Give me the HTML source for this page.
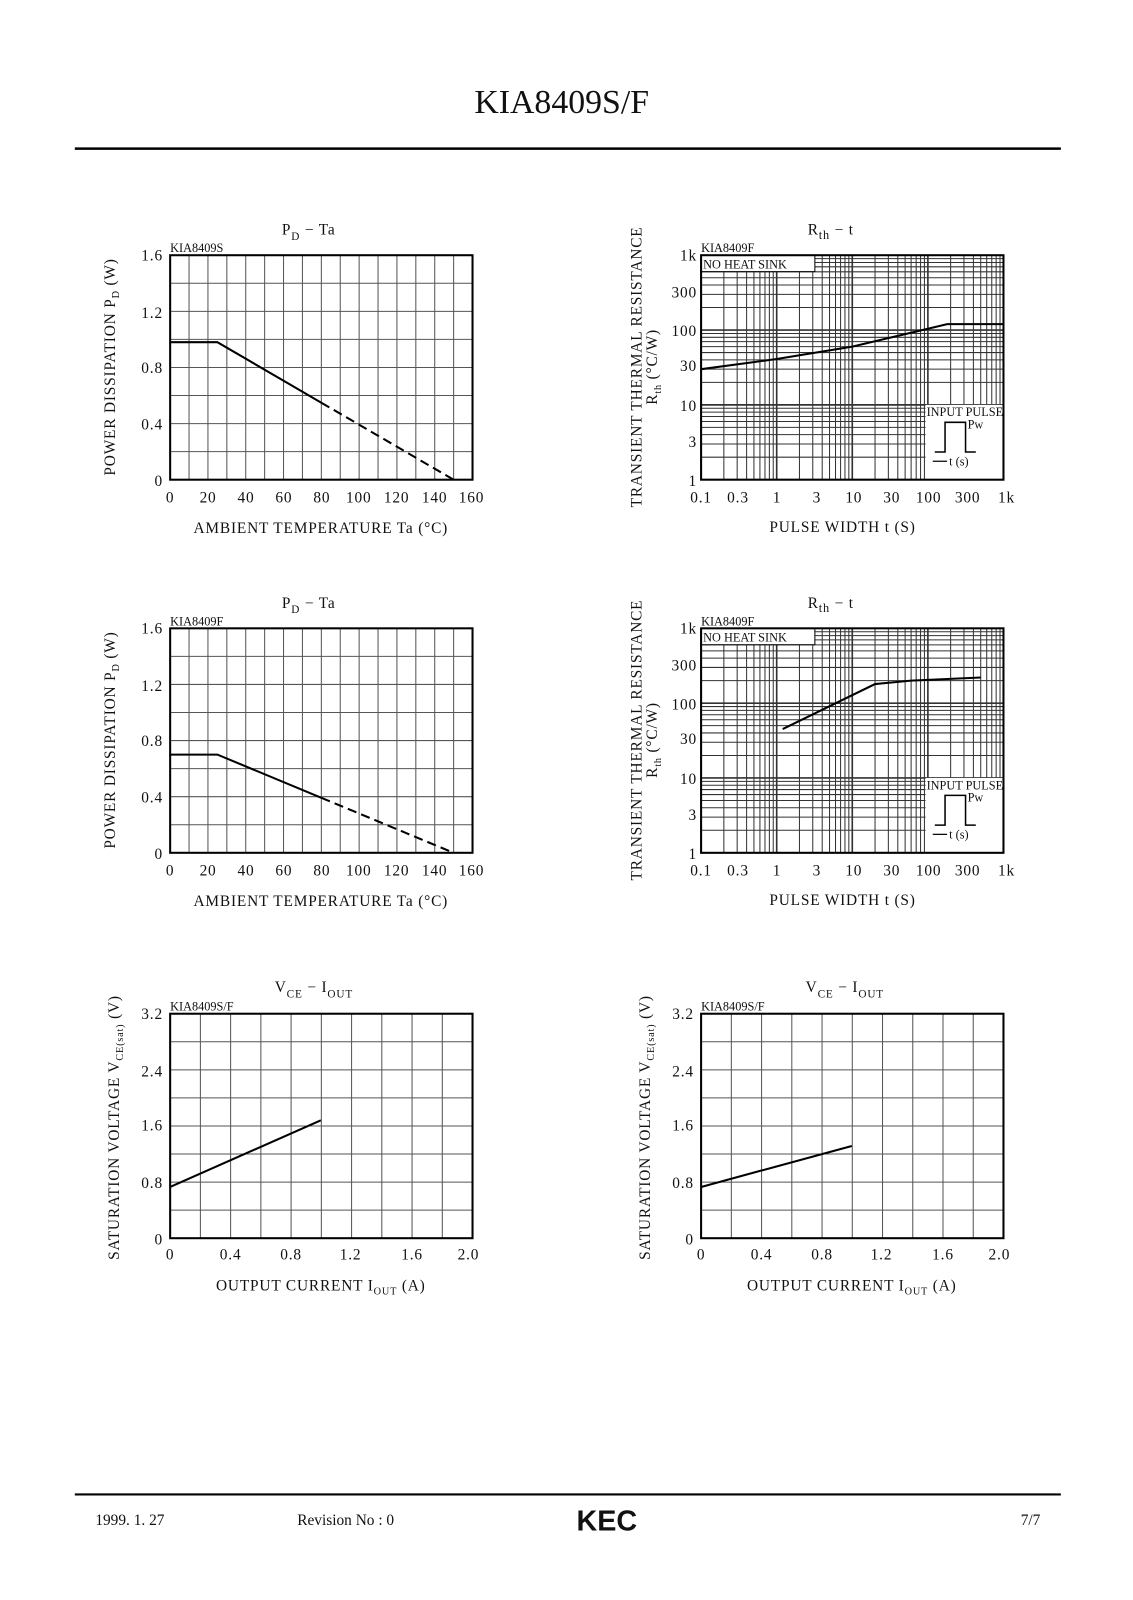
<!DOCTYPE html>
<html><head><meta charset="utf-8"><style>
body{margin:0;background:#fff}
svg{display:block}
text{font-family:"Liberation Serif",serif;fill:#111}
.t{font-size:15px;letter-spacing:0.8px}
.s{font-size:12px}
</style></head><body>
<svg width="1133" height="1600" xmlns="http://www.w3.org/2000/svg">
<g id="w" transform="scale(1.025)">
<text x="548" y="110" font-size="33" text-anchor="middle">KIA8409S/F</text>
<line x1="73" y1="145" x2="1035" y2="145" stroke="#000" stroke-width="2.5"/>
<line x1="73" y1="1458" x2="1035" y2="1458" stroke="#000" stroke-width="2"/>
<text x="93" y="1488" font-size="15">1999. 1. 27</text>
<text x="290" y="1488" font-size="15">Revision No : 0</text>
<text x="592" y="1493" font-size="28" font-weight="bold" text-anchor="middle" style="font-family:'Liberation Sans',sans-serif">KEC</text>
<text x="1015" y="1488" font-size="15" text-anchor="end">7/7</text>
<g id="g"></g>

<text x="275" y="229" class="t" font-size="18">P<tspan font-size="11" dy="5">D</tspan><tspan dy="-5">  −  Ta</tspan></text>
<text x="166" y="246" class="s">KIA8409S</text>
<g class="t" text-anchor="end"><text x="159" y="254">1.6</text><text x="159" y="310">1.2</text><text x="159" y="364">0.8</text><text x="159" y="419">0.4</text><text x="159" y="474">0</text></g>
<g class="t" text-anchor="middle"><text x="166" y="490">0</text><text x="203" y="490">20</text><text x="240" y="490">40</text><text x="277" y="490">60</text><text x="314" y="490">80</text><text x="350" y="490">100</text><text x="387" y="490">120</text><text x="424" y="490">140</text><text x="460" y="490">160</text></g>
<text x="313" y="520" class="t" text-anchor="middle">AMBIENT  TEMPERATURE  Ta  (°C)</text>
<text transform="translate(112,358) rotate(-90)" class="t" text-anchor="middle">POWER  DISSIPATION  P<tspan font-size="10" dy="4">D</tspan><tspan dy="-4">  (W)</tspan></text>

<text x="275" y="593" class="t" font-size="18">P<tspan font-size="11" dy="5">D</tspan><tspan dy="-5">  −  Ta</tspan></text>
<text x="166" y="610" class="s">KIA8409F</text>
<g class="t" text-anchor="end"><text x="159" y="618">1.6</text><text x="159" y="674">1.2</text><text x="159" y="728">0.8</text><text x="159" y="783">0.4</text><text x="159" y="838">0</text></g>
<g class="t" text-anchor="middle"><text x="166" y="854">0</text><text x="203" y="854">20</text><text x="240" y="854">40</text><text x="277" y="854">60</text><text x="314" y="854">80</text><text x="350" y="854">100</text><text x="387" y="854">120</text><text x="424" y="854">140</text><text x="460" y="854">160</text></g>
<text x="313" y="884" class="t" text-anchor="middle">AMBIENT  TEMPERATURE  Ta  (°C)</text>
<text transform="translate(112,722) rotate(-90)" class="t" text-anchor="middle">POWER  DISSIPATION  P<tspan font-size="10" dy="4">D</tspan><tspan dy="-4">  (W)</tspan></text>

<text x="788" y="229" class="t" font-size="18">R<tspan font-size="12" dy="4">th</tspan><tspan dy="-4">   −  t</tspan></text>
<text x="684" y="246" class="s">KIA8409F</text>
<g class="t" text-anchor="end"><text x="680" y="254">1k</text><text x="680" y="290">300</text><text x="680" y="328">100</text><text x="680" y="362">30</text><text x="680" y="401">10</text><text x="680" y="436">3</text><text x="680" y="474">1</text></g>
<g class="t" text-anchor="middle"><text x="684" y="490">0.1</text><text x="720" y="490">0.3</text><text x="758" y="490">1</text><text x="797" y="490">3</text><text x="833" y="490">10</text><text x="870" y="490">30</text><text x="906" y="490">100</text><text x="944" y="490">300</text><text x="982" y="490">1k</text></g>
<text x="822" y="519" class="t" text-anchor="middle">PULSE  WIDTH  t  (S)</text>
<text transform="translate(626,358) rotate(-90)" class="t" text-anchor="middle">TRANSIENT  THERMAL  RESISTANCE</text>
<text transform="translate(641,358) rotate(-90)" class="t" text-anchor="middle">R<tspan font-size="10" dy="4">th</tspan><tspan dy="-4">  (°C/W)</tspan></text>

<text x="788" y="593" class="t" font-size="18">R<tspan font-size="12" dy="4">th</tspan><tspan dy="-4">   −  t</tspan></text>
<text x="684" y="610" class="s">KIA8409F</text>
<g class="t" text-anchor="end"><text x="680" y="618">1k</text><text x="680" y="654">300</text><text x="680" y="692">100</text><text x="680" y="726">30</text><text x="680" y="765">10</text><text x="680" y="800">3</text><text x="680" y="838">1</text></g>
<g class="t" text-anchor="middle"><text x="684" y="854">0.1</text><text x="720" y="854">0.3</text><text x="758" y="854">1</text><text x="797" y="854">3</text><text x="833" y="854">10</text><text x="870" y="854">30</text><text x="906" y="854">100</text><text x="944" y="854">300</text><text x="982" y="854">1k</text></g>
<text x="822" y="883" class="t" text-anchor="middle">PULSE  WIDTH  t  (S)</text>
<text transform="translate(626,722) rotate(-90)" class="t" text-anchor="middle">TRANSIENT  THERMAL  RESISTANCE</text>
<text transform="translate(641,722) rotate(-90)" class="t" text-anchor="middle">R<tspan font-size="10" dy="4">th</tspan><tspan dy="-4">  (°C/W)</tspan></text>

<text x="268" y="968" class="t" font-size="18">V<tspan font-size="11" dy="5">CE</tspan><tspan dy="-5">  −  I</tspan><tspan font-size="11" dy="5">OUT</tspan></text>
<text x="166" y="986" class="s">KIA8409S/F</text>
<g class="t" text-anchor="end"><text x="159" y="994">3.2</text><text x="159" y="1050">2.4</text><text x="159" y="1103">1.6</text><text x="159" y="1159">0.8</text><text x="159" y="1214">0</text></g>
<g class="t" text-anchor="middle"><text x="166" y="1229">0</text><text x="225" y="1229">0.4</text><text x="284" y="1229">0.8</text><text x="342" y="1229">1.2</text><text x="402" y="1229">1.6</text><text x="457" y="1229">2.0</text></g>
<text x="313" y="1259" class="t" text-anchor="middle">OUTPUT  CURRENT  I<tspan font-size="10" dy="4">OUT</tspan><tspan dy="-4">  (A)</tspan></text>
<text transform="translate(116,1100) rotate(-90)" class="t" text-anchor="middle">SATURATION  VOLTAGE    V<tspan font-size="10" dy="4">CE(sat)</tspan><tspan dy="-4">  (V)</tspan></text>

<text x="786" y="968" class="t" font-size="18">V<tspan font-size="11" dy="5">CE</tspan><tspan dy="-5">  −  I</tspan><tspan font-size="11" dy="5">OUT</tspan></text>
<text x="684" y="986" class="s">KIA8409S/F</text>
<g class="t" text-anchor="end"><text x="677" y="994">3.2</text><text x="677" y="1050">2.4</text><text x="677" y="1103">1.6</text><text x="677" y="1159">0.8</text><text x="677" y="1214">0</text></g>
<g class="t" text-anchor="middle"><text x="684" y="1229">0</text><text x="743" y="1229">0.4</text><text x="802" y="1229">0.8</text><text x="860" y="1229">1.2</text><text x="920" y="1229">1.6</text><text x="975" y="1229">2.0</text></g>
<text x="831" y="1259" class="t" text-anchor="middle">OUTPUT  CURRENT  I<tspan font-size="10" dy="4">OUT</tspan><tspan dy="-4">  (A)</tspan></text>
<text transform="translate(634,1100) rotate(-90)" class="t" text-anchor="middle">SATURATION  VOLTAGE    V<tspan font-size="10" dy="4">CE(sat)</tspan><tspan dy="-4">  (V)</tspan></text>

<g id="top"></g>
<g id="ins">
<text x="904" y="406" class="s">INPUT  PULSE</text>
<text x="944" y="418" class="s">Pw</text>
<text x="926" y="454" class="s">t  (s)</text>
<text x="904" y="770" class="s">INPUT  PULSE</text>
<text x="944" y="782" class="s">Pw</text>
<text x="926" y="818" class="s">t  (s)</text>
<text x="686" y="262" class="s">NO  HEAT  SINK</text>
<text x="686" y="626" class="s">NO  HEAT  SINK</text>
</g>
</g>
</svg>
<script>
const NS="http://www.w3.org/2000/svg",g=document.getElementById('g'),top_=document.getElementById('top');
function el(p,n,a){const e=document.createElementNS(NS,n);for(const k in a)e.setAttribute(k,a[k]);p.appendChild(e);return e;}
function L(p,x1,y1,x2,y2,w,c,d){const a={x1,y1,x2,y2,stroke:c||'#000','stroke-width':w||1};if(d)a['stroke-dasharray']=d;el(p,'line',a);}
function lin(x0,y0,w,h,nx,ny){for(let i=1;i<nx;i++)L(g,x0+w*i/nx,y0,x0+w*i/nx,y0+h,1,'#555');for(let j=1;j<ny;j++)L(g,x0,y0+h*j/ny,x0+w,y0+h*j/ny,1,'#555');el(g,'rect',{x:x0,y:y0,width:w,height:h,fill:'none',stroke:'#000','stroke-width':2});}
function lg(x0,y0){const w=295,h=219,dx=w/4,dy=h/3;
 for(let d=0;d<4;d++)for(let m=1;m<=9;m++){const x=x0+dx*(d+Math.log10(m));L(g,x,y0,x,y0+h,m==1?1.6:1,'#333');}
 for(let d=0;d<3;d++)for(let m=1;m<=9;m++){const y=y0+h-dy*(d+Math.log10(m));L(g,x0,y,x0+w,y,m==1?1.6:1,'#333');}
 el(g,'rect',{x:x0+219,y:y0+146,width:76,height:73,fill:'#fff'});
 el(g,'rect',{x:x0,y:y0,width:111,height:16,fill:'#fff',stroke:'#000'});
 el(g,'rect',{x:x0,y:y0,width:w,height:h,fill:'none',stroke:'#000','stroke-width':2});
 const X=x0+228,Y=y0;
 el(g,'polyline',{points:`${X},${Y+192} ${X+10},${Y+192} ${X+10},${Y+163} ${X+30},${Y+163} ${X+30},${Y+192} ${X+40},${Y+192}`,fill:'none',stroke:'#000','stroke-width':1.5});
 L(g,X-2,Y+201,X+12,Y+201,1.2);
}
lin(166,249,295,219,16,8);lin(166,613,295,219,16,8);
lg(684,249);lg(684,613);
lin(166,989,295,219,10,8);lin(684,989,295,219,10,8);
function pl(pts,d){el(top_,'polyline',{points:pts,fill:'none',stroke:'#000','stroke-width':2,'stroke-dasharray':d||''});}
const px=t=>166+t*295/160,pyS=(v,y0)=>y0+219-v*219/1.6;
pl(`166,${pyS(.98,249)} ${px(25)},${pyS(.98,249)} ${px(80)},${pyS(.98*(150-80)/125,249)}`);
pl(`${px(80)},${pyS(.98*70/125,249)} ${px(150)},468`,'9,5');
pl(`166,${pyS(.7,613)} ${px(25)},${pyS(.7,613)} ${px(80)},${pyS(.7*70/125,613)}`);
pl(`${px(80)},${pyS(.7*70/125,613)} ${px(150)},832`,'9,5');
const lx=t=>684+73.75*Math.log10(t/0.1),ly=(r,y0)=>y0+219-73*Math.log10(r);
pl([[0.1,30],[1,41],[10,60],[100,104],[180,120],[1000,120]].map(p=>lx(p[0])+','+ly(p[1],249)).join(' '));
pl([[1.2,45],[20,180],[60,200],[500,220]].map(p=>lx(p[0])+','+ly(p[1],613)).join(' '));
pl('166,1158 313,1093');pl('684,1158 831,1118');
document.getElementById('w').appendChild(document.getElementById('ins'));
</script>
</body></html>
